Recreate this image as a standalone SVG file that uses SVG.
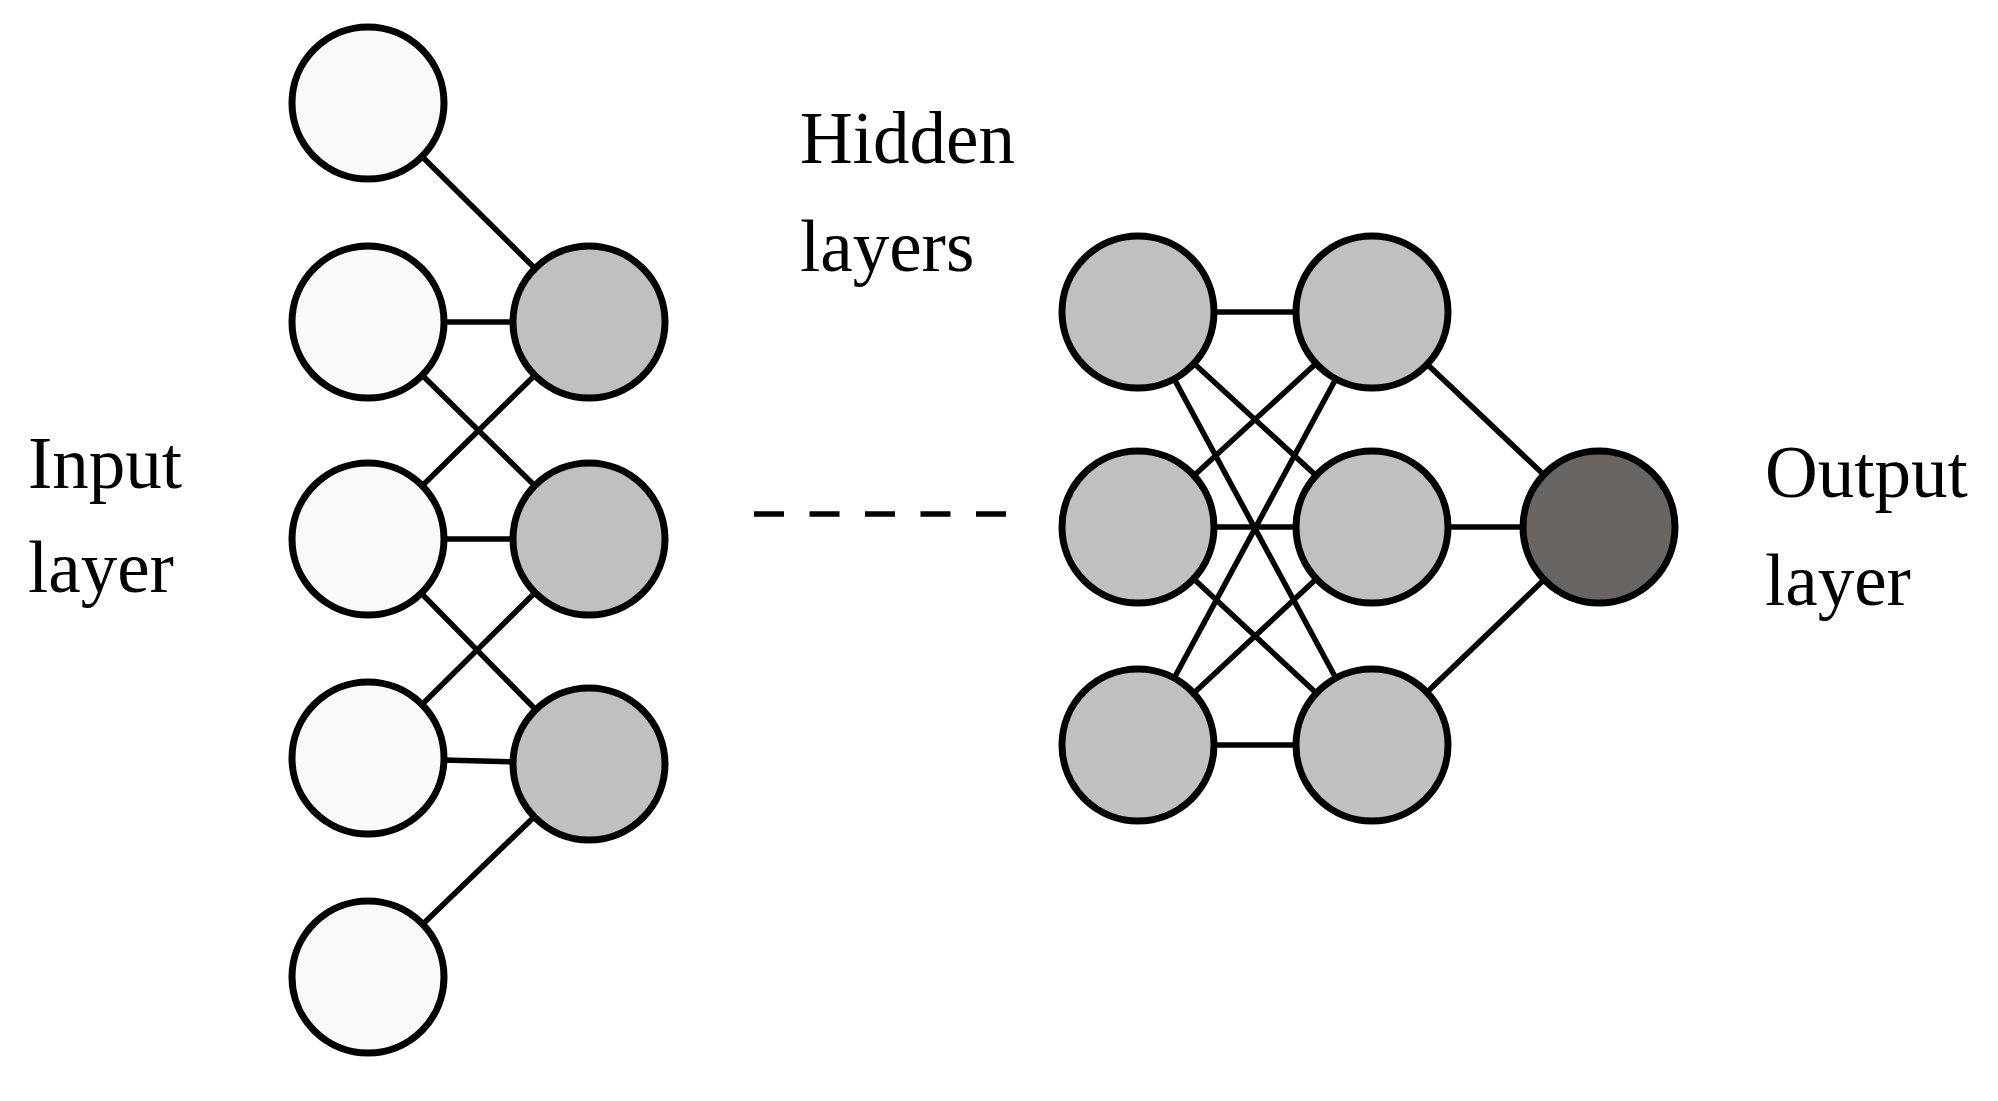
<svg xmlns="http://www.w3.org/2000/svg" width="1998" height="1101" viewBox="0 0 1998 1101">
<style>
.n{stroke:#000;stroke-width:7}
.in{fill:#f9f9f9}.h{fill:#c0c0c0}.o{fill:#686562}
.e line{stroke:#000;stroke-width:5.5}
text{font-family:"Liberation Serif",serif;font-size:73px;fill:#000}
</style>
<rect width="1998" height="1101" fill="#fff"/>
<g class="e" id="connectors">
<line x1="368" y1="103" x2="589" y2="322"/>
<line x1="368" y1="322" x2="589" y2="322"/>
<line x1="368" y1="322" x2="589" y2="539"/>
<line x1="368" y1="539" x2="589" y2="322"/>
<line x1="368" y1="539" x2="589" y2="539"/>
<line x1="368" y1="539" x2="589" y2="764"/>
<line x1="368" y1="758" x2="589" y2="539"/>
<line x1="368" y1="758" x2="589" y2="764"/>
<line x1="368" y1="977" x2="589" y2="764"/>
<line x1="754" y1="514" x2="1006" y2="514" stroke-width="6" stroke-dasharray="30,25.5"/>
<line x1="1138" y1="312" x2="1372" y2="312"/>
<line x1="1138" y1="312" x2="1372" y2="527"/>
<line x1="1138" y1="312" x2="1372" y2="745"/>
<line x1="1138" y1="527" x2="1372" y2="312"/>
<line x1="1138" y1="527" x2="1372" y2="527"/>
<line x1="1138" y1="527" x2="1372" y2="745"/>
<line x1="1138" y1="745" x2="1372" y2="312"/>
<line x1="1138" y1="745" x2="1372" y2="527"/>
<line x1="1138" y1="745" x2="1372" y2="745"/>
<line x1="1372" y1="312" x2="1599" y2="527"/>
<line x1="1372" y1="527" x2="1599" y2="527"/>
<line x1="1372" y1="745" x2="1599" y2="527"/>
</g>
<g id="i0"><circle class="n in" cx="368" cy="103" r="76"/></g>
<g id="i1"><circle class="n in" cx="368" cy="322" r="76"/></g>
<g id="i2"><circle class="n in" cx="368" cy="539" r="76"/></g>
<g id="i3"><circle class="n in" cx="368" cy="758" r="76"/></g>
<g id="i4"><circle class="n in" cx="368" cy="977" r="76"/></g>
<g id="h10"><circle class="n h" cx="589" cy="322" r="76"/></g>
<g id="h11"><circle class="n h" cx="589" cy="539" r="76"/></g>
<g id="h12"><circle class="n h" cx="589" cy="764" r="76"/></g>
<g id="h20"><circle class="n h" cx="1138" cy="312" r="76"/></g>
<g id="h21"><circle class="n h" cx="1138" cy="527" r="76"/></g>
<g id="h22"><circle class="n h" cx="1138" cy="745" r="76"/></g>
<g id="h30"><circle class="n h" cx="1372" cy="312" r="76"/></g>
<g id="h31"><circle class="n h" cx="1372" cy="527" r="76"/></g>
<g id="h32"><circle class="n h" cx="1372" cy="745" r="76"/></g>
<g id="out"><circle class="n o" cx="1599" cy="527" r="76"/></g>
<g id="labels">
<text x="28" y="488">Input</text>
<text x="28" y="592">layer</text>
<text x="800" y="163">Hidden</text>
<text x="800" y="271">layers</text>
<text x="1765" y="497">Output</text>
<text x="1765" y="605">layer</text>
</g>
</svg>
